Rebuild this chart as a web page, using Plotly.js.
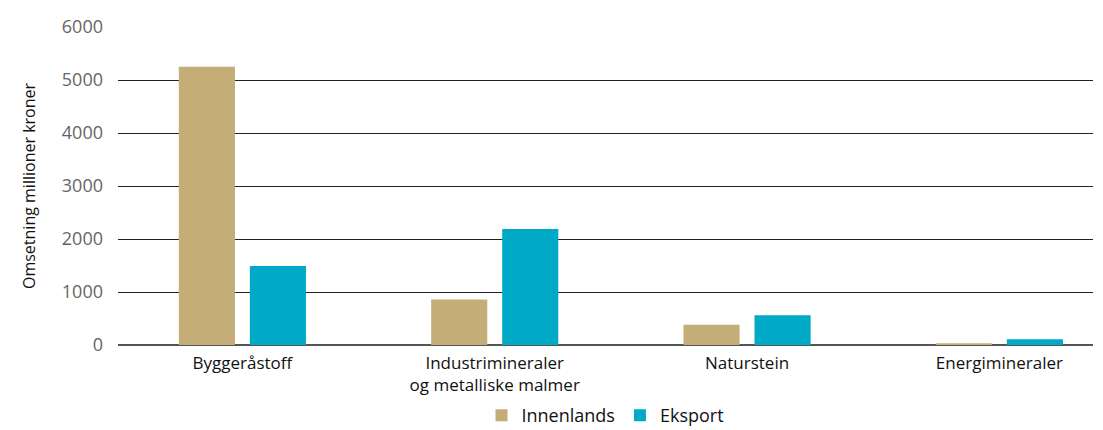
<!DOCTYPE html>
<html>
<head>
<meta charset="utf-8">
<script src="https://cdn.plot.ly/plotly-3.0.1.min.js"></script>
<style>html,body{margin:0;padding:0;background:#fff;}#chart{width:1103px;height:430px;}</style>
</head>
<body>
<div id="chart"></div>
<script>
const categories = ["Byggeråstoff", "Industrimineraler<br>og metalliske malmer", "Naturstein", "Energimineraler"];
const innenlands = [5250, 860, 380, 35];
const eksport = [1490, 2190, 560, 110];
const seriesNames = ["Innenlands", "Eksport"];
const yTicks = [0, 1000, 2000, 3000, 4000, 5000, 6000];

const font = "Open Sans, Liberation Sans, sans-serif";
const data = [
  {type: "bar", name: seriesNames[0], x: categories, y: innenlands, marker: {color: "#C4AD77"}},
  {type: "bar", name: seriesNames[1], x: categories, y: eksport, marker: {color: "#00AAC6"}}
];
const layout = {
  width: 1103, height: 430,
  margin: {l: 118, r: 10, t: 27, b: 85, autoexpand: false},
  paper_bgcolor: "#fff", plot_bgcolor: "#fff",
  barmode: "group", bargap: 0.437, bargroupgap: 0.21,
  font: {family: font, color: "#222"},
  xaxis: {
    type: "category", range: [-0.493, 3.371],
    tickfont: {size: 17, color: "#111"}, showline: false, ticks: "",
    showgrid: false, automargin: false, ticklabelstandoff: 6
  },
  yaxis: {
    range: [0, 6000], tickvals: yTicks, ticktext: yTicks.map(String),
    tickfont: {size: 18, color: "#666"},
    showgrid: true, gridcolor: "#222", gridwidth: 1,
    zeroline: true, zerolinecolor: "#555", zerolinewidth: 2,
    ticks: "", ticklabelstandoff: 14, automargin: false,
    title: {text: "Omsetning millioner kroner", font: {size: 16, color: "#111"}, standoff: 22}
  },
  legend: {orientation: "h", x: 0.5, xanchor: "center", y: -0.28, yanchor: "bottom", font: {size: 18, color: "#111"}, itemwidth: 30},
  showlegend: true
};
Plotly.newPlot("chart", data, layout, {displayModeBar: false, staticPlot: true});
</script>
</body>
</html>
